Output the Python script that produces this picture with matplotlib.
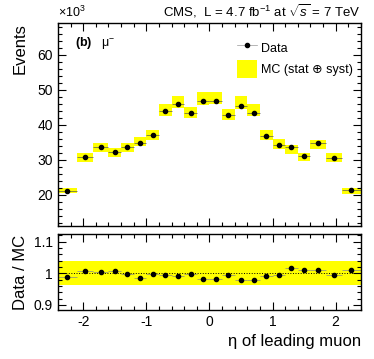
import numpy as np
import matplotlib
matplotlib.use('Agg')
import matplotlib.pyplot as plt
from matplotlib.lines import Line2D
from matplotlib.patches import Patch
from matplotlib.ticker import MultipleLocator

plt.rcParams['font.family'] = ['Liberation Sans', 'DejaVu Sans']
plt.rcParams['mathtext.fontset'] = 'custom'
plt.rcParams['mathtext.rm'] = 'Liberation Sans'
plt.rcParams['mathtext.it'] = 'Liberation Sans:italic'
plt.rcParams['mathtext.bf'] = 'Liberation Sans:bold'
plt.rcParams['axes.unicode_minus'] = False

# eta bins of the leading muon
bin_edges = [-2.4, -2.1, -1.85, -1.6, -1.4, -1.2, -1.0, -0.8, -0.6, -0.4, -0.2, 0.0,
             0.2, 0.4, 0.6, 0.8, 1.0, 1.2, 1.4, 1.6, 1.85, 2.1, 2.4]

# events in data (x10^3)
data = [21.0, 30.9, 33.65, 32.4, 33.65, 34.7, 37.1, 43.9, 46.1, 43.4, 46.7,
        46.8, 42.7, 45.4, 43.4, 36.8, 34.4, 33.65, 31.1, 34.9, 30.6, 21.3]

# data / MC ratio
ratio = [0.988, 1.006, 1.003, 1.006, 0.999, 0.986, 0.999, 0.994, 0.990, 0.997, 0.982,
         0.982, 0.995, 0.979, 0.978, 0.991, 0.995, 1.017, 1.012, 1.012, 0.996, 1.010]

# relative MC uncertainty (stat + syst)
mc_rel_err = 0.038

edges = np.array(bin_edges)
centers = (edges[:-1] + edges[1:]) / 2
half_w = (edges[1:] - edges[:-1]) / 2
data = np.array(data)
ratio = np.array(ratio)
mc = data / ratio

fig = plt.figure(figsize=(3.74, 3.59), dpi=100)
ax = fig.add_axes([0.155, 0.371, 0.81, 0.564])
axr = fig.add_axes([0.155, 0.1365, 0.81, 0.2115])

yellow = '#ffff00'

# top panel
ax.bar(centers, 2 * mc * mc_rel_err, bottom=mc * (1 - mc_rel_err), width=2 * half_w,
       color=yellow, linewidth=0)
ax.errorbar(centers, data, xerr=half_w, fmt='o', ms=3, color='black',
            ecolor='#555555', elinewidth=0.5, capsize=0)
ax.set_xlim(-2.4, 2.4)
ax.set_ylim(11.2, 69)
ax.yaxis.set_minor_locator(MultipleLocator(2))
ax.set_yticks([20, 30, 40, 50, 60])
ax.set_ylabel('Events', fontsize=12, loc='top')
ax.yaxis.set_label_coords(-0.1, 1.0)
ax.tick_params(labelbottom=False)

handles = [Line2D([], [], color='black', marker='o', ms=3, lw=0.5, markeredgecolor='black'),
           Patch(facecolor=yellow, edgecolor='none')]
leg = ax.legend(handles, ['Data', 'MC (stat \u2295 syst)'], loc='upper right',
                bbox_to_anchor=(1.01, 0.98), frameon=False, fontsize=9,
                handlelength=1.6, handleheight=1.8, handletextpad=0.3, labelspacing=0.3)
leg.legend_handles[0].set_color('#999999')
leg.legend_handles[0].set_markerfacecolor('black')
leg.legend_handles[0].set_markeredgecolor('black')

ax.text(0.055, 0.89, r'$\mathbf{(b)}$   μ$^{-}$', transform=ax.transAxes, fontsize=9)
fig.text(0.155, 0.945, r'$\times10^{3}$', fontsize=9, ha='left', va='bottom')
fig.text(0.965, 0.945, r'CMS,  L = 4.7 fb$^{-1}$ at $\sqrt{s}$ = 7 TeV', fontsize=9.5,
         ha='right', va='bottom')

# ratio panel
axr.axhspan(1 - mc_rel_err, 1 + mc_rel_err, color=yellow, linewidth=0)
axr.axhline(1, color='black', linestyle=':', linewidth=0.7)
axr.errorbar(centers, ratio, xerr=half_w, fmt='o', ms=3, color='black',
             ecolor='#888888', elinewidth=0.5, capsize=0)
axr.set_xlim(-2.4, 2.4)
axr.set_ylim(0.884, 1.124)
axr.set_yticks([0.9, 1.0, 1.1])
axr.set_yticklabels(['0.9', '1', '1.1'])
axr.yaxis.set_minor_locator(MultipleLocator(0.02))
axr.set_ylabel('Data / MC', fontsize=12)
axr.yaxis.set_label_coords(-0.1, 0.5)
axr.set_xlabel('η of leading muon', fontsize=12, loc='right')

for a in (ax, axr):
    a.xaxis.set_major_locator(MultipleLocator(1))
    a.xaxis.set_minor_locator(MultipleLocator(0.2))
    a.tick_params(which='both', direction='in', top=True, right=True, labelsize=10,
                  width=0.8)
    a.tick_params(which='major', length=6)
    a.tick_params(which='minor', length=3)
    for s in a.spines.values():
        s.set_linewidth(1.0)

fig.savefig('out.png', dpi=100)
